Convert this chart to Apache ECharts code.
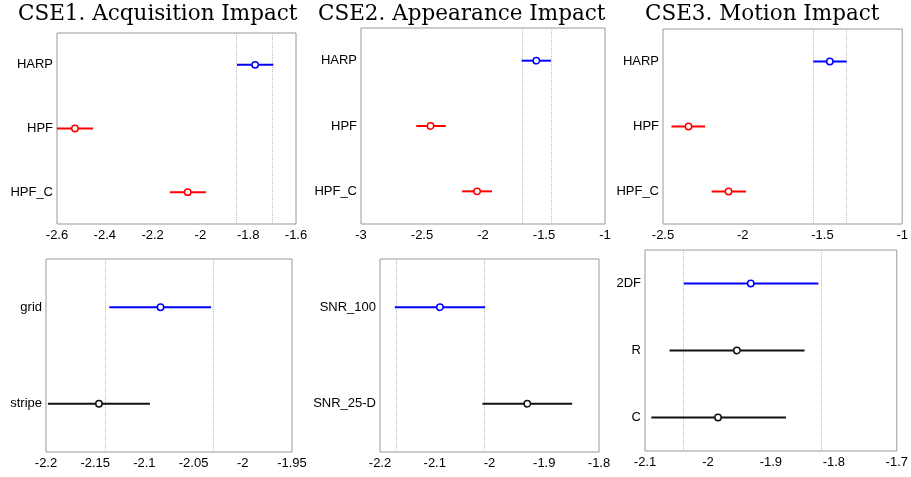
<!DOCTYPE html>
<html>
<head>
<meta charset="utf-8">
<script src="https://cdn.jsdelivr.net/npm/echarts@6/dist/echarts.min.js"></script>
<style>html,body{margin:0;padding:0;background:#fff}#c{width:911px;height:477px}</style>
</head>
<body>
<div id="c"></div>
<script>
// ---- data ----
const titles = ['CSE1. Acquisition Impact', 'CSE2. Appearance Impact', 'CSE3. Motion Impact'];

const cats1 = ['HARP', 'HPF', 'HPF_C'];
const mean1 = [-1.771, -2.525, -2.053];
const lo1 = [-1.847, -2.601, -2.128];
const hi1 = [-1.695, -2.449, -1.977];

const cats2 = ['HARP', 'HPF', 'HPF_C'];
const mean2 = [-1.563, -2.430, -2.048];
const lo2 = [-1.684, -2.547, -2.171];
const hi2 = [-1.443, -2.305, -1.926];

const cats3 = ['HARP', 'HPF', 'HPF_C'];
const mean3 = [-1.454, -2.340, -2.089];
const lo3 = [-1.558, -2.447, -2.195];
const hi3 = [-1.348, -2.236, -1.980];

const cats4 = ['grid', 'stripe'];
const mean4 = [-2.0836, -2.1462];
const lo4 = [-2.1357, -2.1980];
const hi4 = [-2.0322, -2.0944];

const cats5 = ['SNR_100', 'SNR_25-D'];
const mean5 = [-2.0905, -1.931];
const lo5 = [-2.173, -2.013];
const hi5 = [-2.008, -1.849];

const cats6 = ['2DF', 'R', 'C'];
const mean6 = [-1.932, -1.954, -1.984];
const lo6 = [-2.0385, -2.061, -2.090];
const hi6 = [-1.8246, -1.8465, -1.876];

// x-axis ranges [min, max, interval]
const xr1 = [-2.6, -1.6, 0.2];
const xr2 = [-3, -1, 0.5];
const xr3 = [-2.5, -1, 0.5];
const xr4 = [-2.2, -1.95, 0.05];
const xr5 = [-2.2, -1.8, 0.1];
const xr6 = [-2.1, -1.7, 0.1];

// ---- layout / style ----
const panels = [
  {cats: cats1, mean: mean1, lo: lo1, hi: hi1, xr: xr1, other: '#ff0000', g: {left: 57, top: 33, width: 239, height: 191}},
  {cats: cats2, mean: mean2, lo: lo2, hi: hi2, xr: xr2, other: '#ff0000', g: {left: 361, top: 28, width: 244, height: 196}},
  {cats: cats3, mean: mean3, lo: lo3, hi: hi3, xr: xr3, other: '#ff0000', g: {left: 663, top: 29, width: 245, height: 195}},
  {cats: cats4, mean: mean4, lo: lo4, hi: hi4, xr: xr4, other: '#111111', g: {left: 46, top: 259, width: 246, height: 193}},
  {cats: cats5, mean: mean5, lo: lo5, hi: hi5, xr: xr5, other: '#111111', g: {left: 380, top: 259, width: 219, height: 193}},
  {cats: cats6, mean: mean6, lo: lo6, hi: hi6, xr: xr6, other: '#111111', g: {left: 645, top: 250, width: 255, height: 201}}
];
const refColor = '#0000ff';
const titlePos = [13, 313, 640];

const grid = [], xAxis = [], yAxis = [], series = [];
const tickStyle = {lineStyle: {color: '#777', width: 1}};
panels.forEach((p, i) => {
  grid.push(Object.assign({show: true, borderColor: '#999', borderWidth: 1, containLabel: false}, p.g));
  const xbase = {type: 'value', gridIndex: i, min: p.xr[0], max: p.xr[1], interval: p.xr[2],
    splitLine: {show: false}, axisLine: {show: false}};
  xAxis.push(Object.assign({}, xbase, {position: 'bottom',
    axisTick: Object.assign({inside: true, length: 4}, tickStyle),
    axisLabel: {color: '#000', fontFamily: 'Liberation Sans', fontSize: 13, margin: 5}}));
  xAxis.push(Object.assign({}, xbase, {position: 'top',
    axisTick: Object.assign({inside: true, length: 4}, tickStyle),
    axisLabel: {show: false}}));
  const ybase = {type: 'category', gridIndex: i, data: p.cats, inverse: true,
    splitLine: {show: false}, axisLine: {show: false}};
  yAxis.push(Object.assign({}, ybase, {position: 'left',
    axisTick: Object.assign({inside: true, length: 3, alignWithLabel: true}, tickStyle),
    axisLabel: {color: '#000', fontFamily: 'Liberation Sans', fontSize: 13, margin: 4}}));
  yAxis.push(Object.assign({}, ybase, {position: 'right',
    axisTick: Object.assign({inside: true, length: 3, alignWithLabel: true}, tickStyle),
    axisLabel: {show: false}}));
  const data = p.cats.map((c, k) => [k, p.lo[k], p.hi[k], p.mean[k]]);
  series.push({
    type: 'custom', xAxisIndex: 2 * i, yAxisIndex: 2 * i, clip: true, silent: true,
    encode: {x: [1, 2, 3], y: 0},
    data: data,
    renderItem: function (params, api) {
      const k = api.value(0);
      const col = k === 0 ? refColor : p.other;
      const a = api.coord([api.value(1), k]);
      const b = api.coord([api.value(2), k]);
      const m = api.coord([api.value(3), k]);
      return {type: 'group', children: [
        {type: 'line', shape: {x1: a[0], y1: a[1], x2: b[0], y2: b[1]}, style: {stroke: col, lineWidth: 2}},
        {type: 'circle', shape: {cx: m[0], cy: m[1], r: 3.2}, style: {fill: '#fff', stroke: col, lineWidth: 1.5}}
      ]};
    },
    markLine: {
      silent: true, symbol: 'none', label: {show: false}, animation: false,
      lineStyle: {type: 'dotted', color: '#bbb', width: 1},
      data: [{xAxis: p.lo[0]}, {xAxis: p.hi[0]}]
    },
    z: 5
  });
});

const title = titles.map((t, i) => ({
  text: t, left: titlePos[i], top: -2,
  textStyle: {fontFamily: 'DejaVu Serif', fontSize: 21.5, fontWeight: 'normal', color: '#000'}
}));

const chart = echarts.init(document.getElementById('c'), null, {renderer: 'canvas'});
chart.setOption({animation: false, backgroundColor: '#fff', title, grid, xAxis, yAxis, series});
</script>
</body>
</html>
